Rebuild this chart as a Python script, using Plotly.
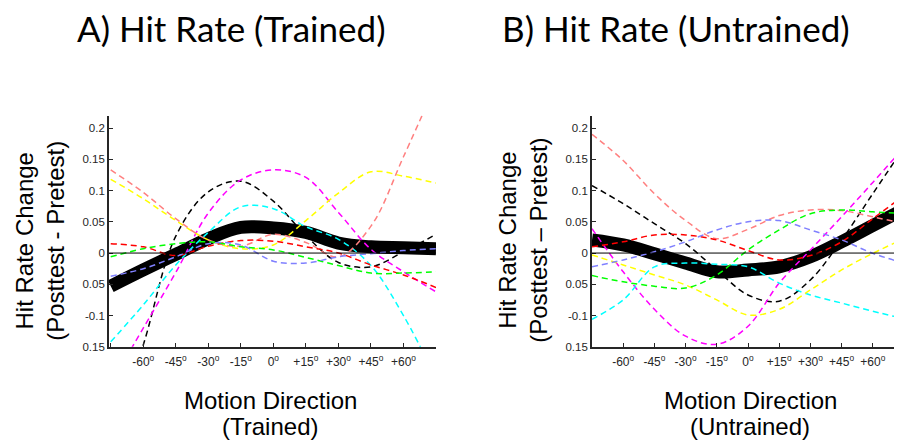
import plotly.graph_objects as go

W, H = 902, 442
OFF_X = 8  # page-offset compensation (px)
OFF_Y = 4

deg = [-75, -60, -45, -30, -15, 0, 15, 30, 45, 60, 75]
tick_vals = [-75, -60, -45, -30, -15, 0, 15, 30, 45, 60, 75]
tick_text = ["", "-60<sup>o</sup>", "-45<sup>o</sup>", "-30<sup>o</sup>", "-15<sup>o</sup>", "0<sup>o</sup>",
             "+15<sup>o</sup>", "+30<sup>o</sup>", "+45<sup>o</sup>", "+60<sup>o</sup>", ""]
y_tick_vals = [-0.15, -0.1, -0.05, 0, 0.05, 0.1, 0.15, 0.2]
y_tick_text = ["0.15", "-0.1", "0.05", "0", "0.05", "0.1", "0.15", "0.2"]

subject_colors = ["#000000", "#FF00FF", "#00FFFF", "#FFFF00", "#FF8080", "#FF0000", "#00FF00", "#8080FF"]

# Panel A (trained)
trained_mean = [-0.053, -0.027, -0.002, 0.023, 0.041, 0.040, 0.033, 0.016, 0.010, 0.0085, 0.007]
trained_black = [-0.30, -0.147, 0.027, 0.098, 0.115, 0.083, 0.028, -0.015, -0.022, 0.002, 0.030]
trained_magenta = [-0.21, -0.12, -0.031, 0.064, 0.117, 0.133, 0.121, 0.065, 0.006, -0.030, -0.062]
trained_cyan = [-0.142, -0.083, -0.019, 0.033, 0.074, 0.071, 0.042, 0.022, -0.020, -0.10, -0.20]
trained_yellow = [0.118, 0.087, 0.052, 0.021, 0.007, 0.013, 0.052, 0.096, 0.130, 0.123, 0.112]
trained_salmon = [0.133, 0.097, 0.055, 0.021, 0.011, 0.030, 0.017, -0.006, 0.043, 0.154, 0.27]
trained_red = [0.015, 0.010, -0.004, 0.011, 0.020, 0.019, 0.010, 0.0, -0.019, -0.035, -0.055]
trained_green = [-0.006, 0.007, 0.015, 0.018, 0.010, 0.005, -0.007, -0.020, -0.032, -0.032, -0.030]
trained_blue = [-0.037, -0.025, -0.006, 0.015, 0.013, -0.013, -0.016, -0.006, -0.001, 0.004, 0.007]

# Panel B (untrained)
untrained_mean = [0.021, 0.013, -0.001, -0.016, -0.030, -0.027, -0.022, -0.006, 0.018, 0.044, 0.070]
untrained_black = [0.108, 0.079, 0.047, 0.015, -0.027, -0.067, -0.077, -0.043, 0.021, 0.095, 0.169]
untrained_magenta = [0.039, -0.030, -0.090, -0.133, -0.146, -0.117, -0.048, 0.005, 0.058, 0.113, 0.169]
untrained_cyan = [-0.106, -0.075, -0.022, -0.016, -0.018, -0.022, -0.048, -0.067, -0.080, -0.093, -0.105]
untrained_yellow = [-0.003, -0.019, -0.035, -0.051, -0.075, -0.099, -0.090, -0.059, -0.027, -0.0005, 0.023]
untrained_salmon = [0.190, 0.148, 0.095, 0.052, 0.023, 0.038, 0.060, 0.069, 0.068, 0.058, 0.047]
untrained_red = [0.010, 0.018, 0.029, 0.029, 0.021, 0.004, -0.011, -0.004, 0.018, 0.055, 0.092]
untrained_green = [-0.036, -0.046, -0.053, -0.056, -0.035, 0.005, 0.037, 0.063, 0.069, 0.066, 0.063]
untrained_blue = [-0.022, -0.011, 0.002, 0.018, 0.037, 0.050, 0.052, 0.037, 0.021, -0.0005, -0.016]

trained_subjects = [trained_black, trained_magenta, trained_cyan, trained_yellow,
                    trained_salmon, trained_red, trained_green, trained_blue]
untrained_subjects = [untrained_black, untrained_magenta, untrained_cyan, untrained_yellow,
                      untrained_salmon, untrained_red, untrained_green, untrained_blue]

fig = go.Figure()

def add_panel(mean, subjects, xa, ya):
    fig.add_trace(go.Scatter(x=deg, y=mean, mode="lines", xaxis=xa, yaxis=ya,
                             line=dict(color="black", width=13, shape="spline"),
                             showlegend=False, hoverinfo="skip"))
    for vals, col in zip(subjects, subject_colors):
        fig.add_trace(go.Scatter(x=deg, y=vals, mode="lines", xaxis=xa, yaxis=ya,
                                 line=dict(color=col, width=1.5, dash="6px,4px", shape="spline"),
                                 showlegend=False, hoverinfo="skip"))

add_panel(trained_mean, trained_subjects, "x", "y")
add_panel(untrained_mean, untrained_subjects, "x2", "y2")

def px_x(px):
    return (px - OFF_X) / W

def px_y(py):
    return 1 - (py - OFF_Y) / H

ytop, ybot = 113, 347.5
ydom = [px_y(ybot), px_y(ytop)]

axis_common = dict(showgrid=False, zeroline=False, showline=True, linecolor="#262626", linewidth=1.8,
                   ticks="inside", ticklen=4, tickcolor="#262626", tickwidth=1)
xfont = dict(family="Liberation Sans, Arial", size=12, color="#262626")
yfont = dict(family="Liberation Sans, Arial", size=11.5, color="#262626")

fig.update_layout(
    width=W, height=H, margin=dict(l=0, r=0, t=0, b=0),
    paper_bgcolor="white", plot_bgcolor="white",
    xaxis=dict(domain=[px_x(109), px_x(436)], range=[-75.8, 75], anchor="y",
               tickvals=tick_vals, ticktext=tick_text, tickfont=xfont,
               ticklabelstandoff=3, **axis_common),
    yaxis=dict(domain=ydom, range=[-0.15, 0.22], anchor="x",
               tickvals=y_tick_vals, ticktext=y_tick_text, tickfont=yfont, **axis_common),
    xaxis2=dict(domain=[px_x(592), px_x(904)], range=[-75, 75], anchor="y2",
                tickvals=tick_vals, ticktext=tick_text, tickfont=xfont,
                ticklabelstandoff=3, **axis_common),
    yaxis2=dict(domain=ydom, range=[-0.15, 0.22], anchor="x2",
                tickvals=y_tick_vals, ticktext=y_tick_text, tickfont=yfont, **axis_common),
)

for xr, yr in [("x domain", "y"), ("x2 domain", "y2")]:
    fig.add_shape(type="line", xref=xr, yref=yr, x0=0, x1=1, y0=0, y1=0,
                  line=dict(color="black", width=1))

title_font = dict(family="Lato, Open Sans", size=35, color="black")
label_font = dict(family="Liberation Sans, Arial", size=24, color="black")

def ann(text, px, py, font, angle=0):
    fig.add_annotation(text=text, x=px_x(px), y=px_y(py), xref="paper", yref="paper",
                       showarrow=False, font=font, textangle=angle,
                       xanchor="center", yanchor="middle")

ann("A) Hit Rate (Trained)", 231, 24.5, title_font)
ann("B) Hit Rate (Untrained)", 676, 24.5, title_font)
ann("Hit Rate Change<br>(Posttest - Pretest)", 40, 240, label_font, -90)
ann("Hit Rate Change<br>(Posttest \u2013 Pretest)", 523, 240, label_font, -90)
ann("Motion Direction", 270, 402, label_font)
ann("(Trained)", 270, 428, label_font)
ann("Motion Direction", 750, 402, label_font)
ann("(Untrained)", 750, 428, label_font)

fig.write_html("out.html")
